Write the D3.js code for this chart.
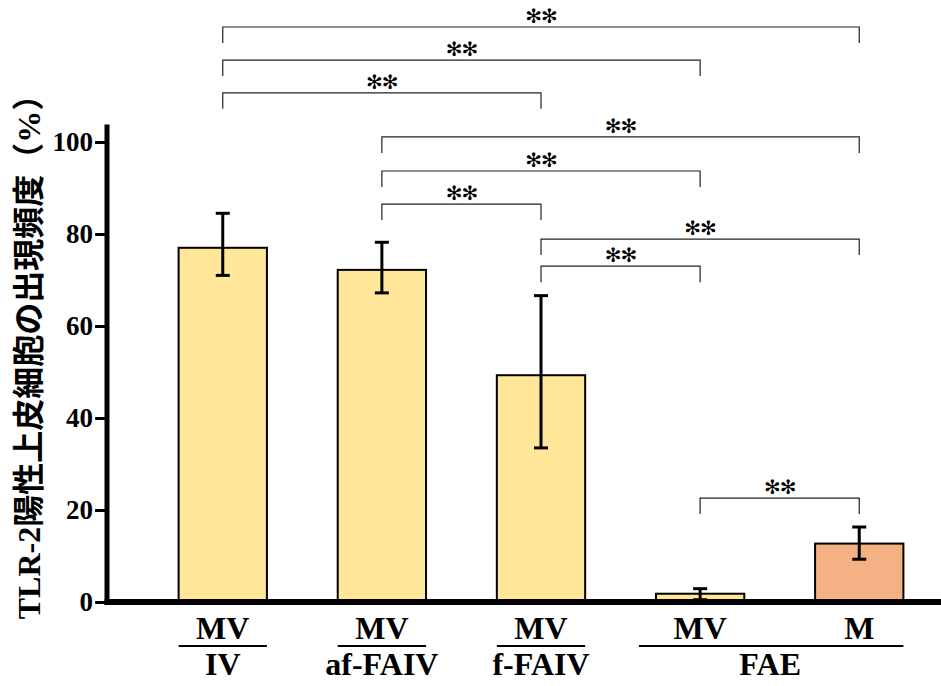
<!DOCTYPE html>
<html>
<head>
<meta charset="utf-8">
<script src="https://cdn.jsdelivr.net/npm/d3@7"></script>
<style>
  body { margin: 0; background: #fff; }
  svg text { font-family: "Liberation Serif", "Times New Roman", serif; font-weight: bold; }
</style>
</head>
<body>
<svg id="chart" width="941" height="686"></svg>
<script>
// データ
const groups = ["IV", "af-FAIV", "f-FAIV", "FAE-MV", "FAE-M"];
const topLabels = ["MV", "MV", "MV", "MV", "M"];
const means = [77.0, 72.2, 49.3, 1.8, 12.7];
const upper = [84.5, 78.2, 66.6, 2.9, 16.3];
const lower = [71.0, 67.2, 33.5, 0.5, 9.3];
const barColors = ["#FFE699", "#FFE699", "#FFE699", "#FFE699", "#F4B183"];
const yTicks = [0, 20, 40, 60, 80, 100];
// 有意差 [from, to, 線の高さ(%)]
const sigPairs = [
  [0, 4, 125.0], [0, 3, 117.8], [0, 2, 110.7],
  [1, 4, 101.1], [1, 3, 93.7], [1, 2, 86.5],
  [2, 4, 78.9], [2, 3, 73.0],
  [3, 4, 22.6]
];

const svg = d3.select("#chart");
const margin = { left: 107, bottom: 602 };

const x = d3.scaleBand()
  .domain(groups)
  .range([142, 940])
  .paddingInner(0.445)
  .paddingOuter(0.23);

const y = d3.scaleLinear()
  .domain([0, 100])
  .range([602, 142]);

const g = svg.append("g");

// 棒
g.selectAll(".bar")
  .data(groups)
  .enter().append("rect")
  .attr("class", "bar")
  .attr("x", d => x(d))
  .attr("y", (d, i) => y(means[i]))
  .attr("width", x.bandwidth())
  .attr("height", (d, i) => y(0) - y(means[i]))
  .attr("fill", (d, i) => barColors[i])
  .attr("stroke", "#000")
  .attr("stroke-width", 2);

// エラーバー
groups.forEach((d, i) => {
  const cx = x(d) + x.bandwidth() / 2;
  g.append("line")
    .attr("x1", cx).attr("x2", cx)
    .attr("y1", y(upper[i])).attr("y2", y(lower[i]))
    .attr("stroke", "#000").attr("stroke-width", 3);
  [upper[i], lower[i]].forEach(v => {
    g.append("line")
      .attr("x1", cx - 7).attr("x2", cx + 7)
      .attr("y1", y(v)).attr("y2", y(v))
      .attr("stroke", "#000").attr("stroke-width", 3);
  });
});

// 軸（目盛り線は d3.axis、ラベルは別に描く）
const yAxis = d3.axisLeft(y).tickValues(yTicks).tickSize(12).tickFormat("");
const ya = svg.append("g")
  .attr("transform", `translate(${margin.left},0)`)
  .call(yAxis);
ya.select(".domain").remove();
ya.selectAll(".tick line").attr("stroke", "#000").attr("stroke-width", 3);

svg.selectAll(".ylab")
  .data(yTicks)
  .enter().append("text")
  .attr("class", "ylab")
  .attr("x", margin.left - 14)
  .attr("y", d => y(d) + 9)
  .attr("text-anchor", "end")
  .style("font-size", "27px")
  .text(d => d);

svg.append("line")
  .attr("x1", margin.left).attr("x2", margin.left)
  .attr("y1", y(103.8)).attr("y2", 605)
  .attr("stroke", "#000").attr("stroke-width", 5);
svg.append("line")
  .attr("x1", margin.left - 2.5).attr("x2", 941)
  .attr("y1", 602).attr("y2", 602)
  .attr("stroke", "#000").attr("stroke-width", 6);

// 軸タイトル
svg.append("text")
  .attr("transform", `translate(40,${y(55)}) rotate(-90)`)
  .attr("text-anchor", "middle")
  .style("font-size", "32px")
  .style("font-family", "'Liberation Serif', 'Noto Sans CJK JP', serif")
  .text("TLR-2陽性上皮細胞の出現頻度（%）");

// カテゴリラベル
groups.forEach((d, i) => {
  const cx = x(d) + x.bandwidth() / 2;
  svg.append("text")
    .attr("x", cx).attr("y", 639)
    .attr("text-anchor", "middle")
    .style("font-size", "32px")
    .text(topLabels[i]);
  if (i < 3) {
    svg.append("line")
      .attr("x1", x(d)).attr("x2", x(d) + x.bandwidth())
      .attr("y1", 646).attr("y2", 646)
      .attr("stroke", "#000").attr("stroke-width", 2);
    svg.append("text")
      .attr("x", cx).attr("y", 675)
      .attr("text-anchor", "middle")
      .style("font-size", "32px")
      .text(d);
  }
});
const fx1 = x("FAE-MV") - 17;
const fx2 = x("FAE-M") + x.bandwidth();
svg.append("line")
  .attr("x1", fx1).attr("x2", fx2)
  .attr("y1", 646).attr("y2", 646)
  .attr("stroke", "#000").attr("stroke-width", 2);
svg.append("text")
  .attr("x", (fx1 + fx2) / 2 - 1).attr("y", 675)
  .attr("text-anchor", "middle")
  .style("font-size", "32px")
  .text("FAE");

// 有意差ブラケット
sigPairs.forEach(([a, b, h]) => {
  const x1 = x(groups[a]) + x.bandwidth() / 2;
  const x2 = x(groups[b]) + x.bandwidth() / 2;
  const yy = y(h);
  svg.append("path")
    .attr("d", `M${x1},${yy + 16}V${yy}H${x2}V${yy + 16}`)
    .attr("fill", "none")
    .attr("stroke", "#222")
    .attr("stroke-width", 1.2);
  svg.append("text")
    .attr("x", (x1 + x2) / 2).attr("y", yy - 4)
    .attr("text-anchor", "middle")
    .style("font-size", "20px")
    .style("font-family", "'DejaVu Sans', sans-serif")
    .style("font-weight", "normal")
    .style("letter-spacing", "-1px")
    .text("✻✻");
});
</script>
</body>
</html>
